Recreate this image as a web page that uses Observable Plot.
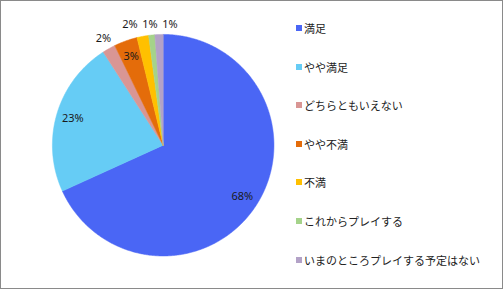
<!DOCTYPE html>
<html><head><meta charset="utf-8">
<script src="https://cdn.jsdelivr.net/npm/d3@7"></script>
<script src="https://cdn.jsdelivr.net/npm/@observablehq/plot@0.6"></script>
<style>
html,body{margin:0;padding:0;background:#fff;}
#wrap{position:relative;width:503px;height:289px;box-sizing:border-box;border:1px solid #8a8a8a;overflow:hidden;background:#fff;}
#chart{position:absolute;left:-1px;top:-1px;}
#legend{position:absolute;left:295px;top:17px;font-family:"Noto Sans CJK JP","Noto Sans",sans-serif;font-size:11px;color:#222;}
.item{height:38.6px;display:flex;align-items:flex-start;line-height:20px;}
.sw{width:6px;height:6px;margin-right:2px;margin-top:7px;flex:none;}
</style></head>
<body>
<div id="wrap"><div id="chart"></div><div id="legend"></div></div>
<script>
const categories = ["満足","やや満足","どちらともいえない","やや不満","不満","これからプレイする","いまのところプレイする予定はない"];
const values = [68.2, 22.7, 1.9, 3.4, 1.7, 0.9, 1.2];
const labels = ["68%","23%","2%","3%","2%","1%","1%"];
const colors = ["#4A66F5","#66CCF5","#D99694","#E46C0A","#FFC000","#A5D38A","#B3A2C7"];

const pie = d3.pie().sort(null).value(d => d.value)(categories.map((name,i)=>({name, value: values[i], label: labels[i]})));

// slice polygons in unit coordinates (angle clockwise from top)
const slicePts = [];
pie.forEach(p => {
  const name = p.data.name;
  slicePts.push({name, x: 0, y: 0});
  const n = Math.max(2, Math.ceil((p.endAngle - p.startAngle) / (Math.PI/360)));
  for (let k = 0; k <= n; k++) {
    const a = p.startAngle + (p.endAngle - p.startAngle) * k / n;
    slicePts.push({name, x: Math.sin(a), y: Math.cos(a)});
  }
  slicePts.push({name, x: 0, y: 0});
});

// label positions: inside for big slices, outside for small ones
const lab = pie.map(p => {
  const a = (p.startAngle + p.endAngle) / 2;
  const inside = p.data.value >= 3;
  const r = inside ? 0.85 : 1.1;
  return {label: p.data.label, x: Math.sin(a) * r, y: Math.cos(a) * r, inside};
});
// spread overlapping outside labels horizontally
const outs = lab.filter(d => !d.inside).sort((a,b)=>a.x-b.x);
const minGap = 0.18;
for (let it = 0; it < 50; it++) {
  for (let i = 1; i < outs.length; i++) {
    const a = outs[i-1], b = outs[i];
    if (Math.abs(a.y - b.y) < 0.12 && b.x - a.x < minGap) {
      const d = (minGap - (b.x - a.x)) / 2;
      a.x -= d; b.x += d;
    }
  }
}
const outY = d3.mean(outs.filter(d => d.y > 1.0), d => d.y);
outs.forEach(d => { if (d.y > 1.0 && Math.abs(d.x) < 0.4) d.y = outY; });

const chart = Plot.plot({
  width: 503, height: 289,
  margin: 0,
  x: {domain: [-1, 1], range: [52, 274], axis: null},
  y: {domain: [-1, 1], range: [256, 34], axis: null},
  color: {domain: categories, range: colors},
  style: {fontFamily: "'Noto Sans', sans-serif", background: "transparent"},
  marks: [
    Plot.line(slicePts, {x: "x", y: "y", z: "name", fill: "name", stroke: "name", strokeWidth: 0.5, curve: "linear"}),
    Plot.text(lab, {x: "x", y: "y", text: "label", fontSize: 11, fill: "#1a1a1a"})
  ]
});
document.getElementById("chart").appendChild(chart);

const leg = document.getElementById("legend");
categories.forEach((c, i) => {
  const it = document.createElement("div"); it.className = "item";
  const sw = document.createElement("span"); sw.className = "sw"; sw.style.background = colors[i];
  const t = document.createElement("span"); t.textContent = c;
  it.appendChild(sw); it.appendChild(t); leg.appendChild(it);
});
</script>
</body></html>
